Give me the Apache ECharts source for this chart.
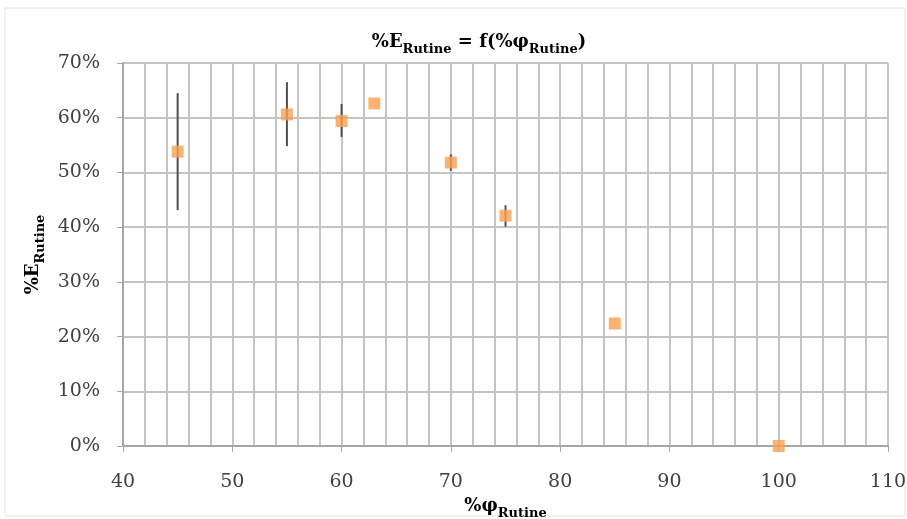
<!DOCTYPE html>
<html><head><meta charset="utf-8">
<script src="https://cdn.jsdelivr.net/npm/echarts@6/dist/echarts.min.js"></script>
<style>html,body{margin:0;padding:0;background:#fff}#c{width:907px;height:519px}</style>
</head><body><div id="c"></div>
<script>
const phiRutine = [45, 55, 60, 63, 70, 75, 85, 100];
const eRutine = [53.8, 60.6, 59.4, 62.6, 51.8, 42.1, 22.4, 0];
const errLow = [43.1, 54.8, 56.5, null, 50.3, 40.1, null, null];
const errHigh = [64.5, 66.5, 62.5, null, 53.3, 44.0, null, null];
const xTicks = [40, 50, 60, 70, 80, 90, 100, 110];
const yTicks = [0, 10, 20, 30, 40, 50, 60, 70];

const font = 'DejaVu Serif';
const errData = [];
phiRutine.forEach((x, i) => { if (errLow[i] != null) errData.push([x, errLow[i], errHigh[i]]); });
const pts = phiRutine.map((x, i) => [x, eRutine[i]]);

const richName = {
  m: {fontFamily: font, fontWeight: 'bold', fontSize: 18, color: '#000', verticalAlign: 'bottom', lineHeight: 22},
  s: {fontFamily: font, fontWeight: 'bold', fontSize: 13, color: '#000', verticalAlign: 'bottom', lineHeight: 16, padding: [0,0,-5,0]}
};

const chart = echarts.init(document.getElementById('c'));
chart.setOption({
  animation: false,
  backgroundColor: '#fff',
  graphic: [{type: 'rect', shape: {x: 5, y: 8, width: 900, height: 508}, style: {fill: 'none', stroke: '#e4e4e4', lineWidth: 1}, z: -1}],
  title: {
    text: '{m|%E}{s|Rutine}{m| = f(%φ}{s|Rutine}{m|)}',
    left: 474, top: 24, textAlign: 'center',
    textStyle: {rich: richName}
  },
  grid: {left: 123, right: 19, top: 63, bottom: 73, containLabel: false, outerBoundsMode: 'none'},
  xAxis: {
    type: 'value', min: 40, max: 110, interval: 10,
    axisLine: {show: true, onZero: false, lineStyle: {color: '#a6a6a6', width: 2}},
    axisTick: {show: true, length: 6, lineStyle: {color: '#a6a6a6', width: 1}},
    axisLabel: {fontFamily: font, fontSize: 19, color: '#404040', margin: 27,
      formatter: v => xTicks.includes(v) ? String(v) : ''},
    splitLine: {show: true, lineStyle: {color: '#c4c4c4', width: 2}},
    minorTick: {show: false, splitNumber: 5},
    minorSplitLine: {show: true, lineStyle: {color: '#c4c4c4', width: 2}},
    name: '{m|%φ}{s|Rutine}', nameLocation: 'middle', nameGap: 44,
    nameTextStyle: {rich: richName}
  },
  yAxis: {
    type: 'value', min: 0, max: 70, interval: 10,
    axisLine: {show: true, lineStyle: {color: '#a6a6a6', width: 2}},
    axisTick: {show: true, length: 6, lineStyle: {color: '#a6a6a6', width: 1}},
    axisLabel: {fontFamily: font, fontSize: 19, color: '#404040', margin: 23,
      formatter: v => yTicks.includes(v) ? v + '%' : ''},
    splitLine: {show: true, lineStyle: {color: '#c4c4c4', width: 2}},
    name: '{m|%E}{s|Rutine}', nameLocation: 'middle', nameGap: 80, nameRotate: 90,
    nameTextStyle: {rich: richName}
  },
  series: [
    {
      type: 'custom', data: errData, z: 3,
      renderItem: (params, api) => {
        const lo = api.coord([api.value(0), api.value(1)]);
        const hi = api.coord([api.value(0), api.value(2)]);
        return {type: 'line', shape: {x1: lo[0], y1: lo[1], x2: hi[0], y2: hi[1]},
          style: {stroke: '#505050', lineWidth: 2}};
      }
    },
    {
      type: 'scatter', data: pts, symbol: 'rect', symbolSize: 12, z: 4,
      itemStyle: {color: '#F9A04F'}
    }
  ]
});
</script></body></html>
